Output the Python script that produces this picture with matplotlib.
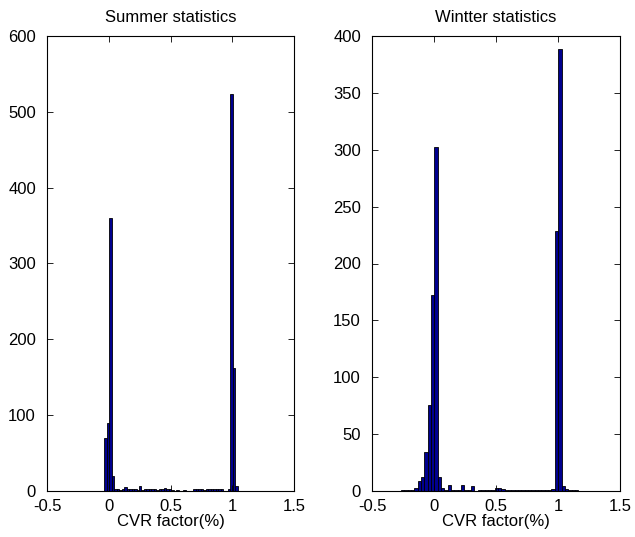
import matplotlib
import numpy as np

matplotlib.use("Agg")
import matplotlib.pyplot as plt  # noqa: E402

plt.rcParams["font.family"] = ["Liberation Sans", "DejaVu Sans"]
plt.rcParams["font.size"] = 12

# Histogram counts of the CVR factor, one entry per bin (left to right).
summer_bin_start = -0.025
summer_bin_width = 0.02
summer_counts = [
    70, 90, 360, 20, 3, 3, 1, 2, 5, 3,
    2, 3, 3, 1, 6, 1, 2, 3, 2, 3,
    3, 1, 2, 3, 4, 2, 2, 1, 0, 1,
    0, 0, 1, 0, 0, 0, 3, 2, 3, 3,
    1, 2, 2, 2, 2, 2, 2, 3, 0, 0,
    3, 524, 162, 7,
]

winter_bin_start = -0.254
winter_bin_width = 0.027
winter_counts = [
    1, 1, 1, 1, 3, 9, 12, 34, 76, 172,
    302, 12, 3, 1, 5, 1, 1, 1, 5, 1,
    1, 4, 0, 1, 1, 1, 1, 1, 3, 3,
    2, 1, 1, 1, 1, 1, 1, 1, 1, 1,
    1, 1, 1, 1, 1, 2, 229, 389, 4, 2,
    1, 1, 1, 0,
]

x_ticks = [-0.5, 0, 0.5, 1, 1.5]
x_ticklabels = ["-0.5", "0", "0.5", "1", "1.5"]
summer_yticks = [0, 100, 200, 300, 400, 500, 600]
winter_yticks = [0, 50, 100, 150, 200, 250, 300, 350, 400]

BAR_FACE = (0.0, 0.0, 0.5625)


def draw_hist(ax, start, width, counts, yticks, title):
    centers = start + width * np.arange(len(counts))
    ax.bar(centers, counts, width=width, color=BAR_FACE, edgecolor="black",
           linewidth=0.6, align="center")
    ax.set_xlim(-0.5, 1.5)
    ax.set_ylim(yticks[0], yticks[-1])
    ax.set_xticks(x_ticks)
    ax.set_xticklabels(x_ticklabels)
    ax.set_yticks(yticks)
    ax.tick_params(direction="in", top=True, right=True, length=4, width=0.6)
    ax.tick_params(axis="x", pad=6)
    ax.tick_params(axis="y", pad=8)
    for sp in ax.spines.values():
        sp.set_linewidth(0.8)
    ax.set_title(title, fontsize=12, pad=10)
    ax.set_xlabel("CVR factor(%)", labelpad=0)


fig = plt.figure(figsize=(6.35, 5.37), dpi=100)
ax1 = fig.add_axes([47 / 635, 46 / 537, 247 / 635, 455 / 537])
ax2 = fig.add_axes([372 / 635, 46 / 537, 248 / 635, 455 / 537])

draw_hist(ax1, summer_bin_start, summer_bin_width, summer_counts, summer_yticks, "Summer statistics")
draw_hist(ax2, winter_bin_start, winter_bin_width, winter_counts, winter_yticks, "Wintter statistics")

fig.savefig("out.png", dpi=100)
